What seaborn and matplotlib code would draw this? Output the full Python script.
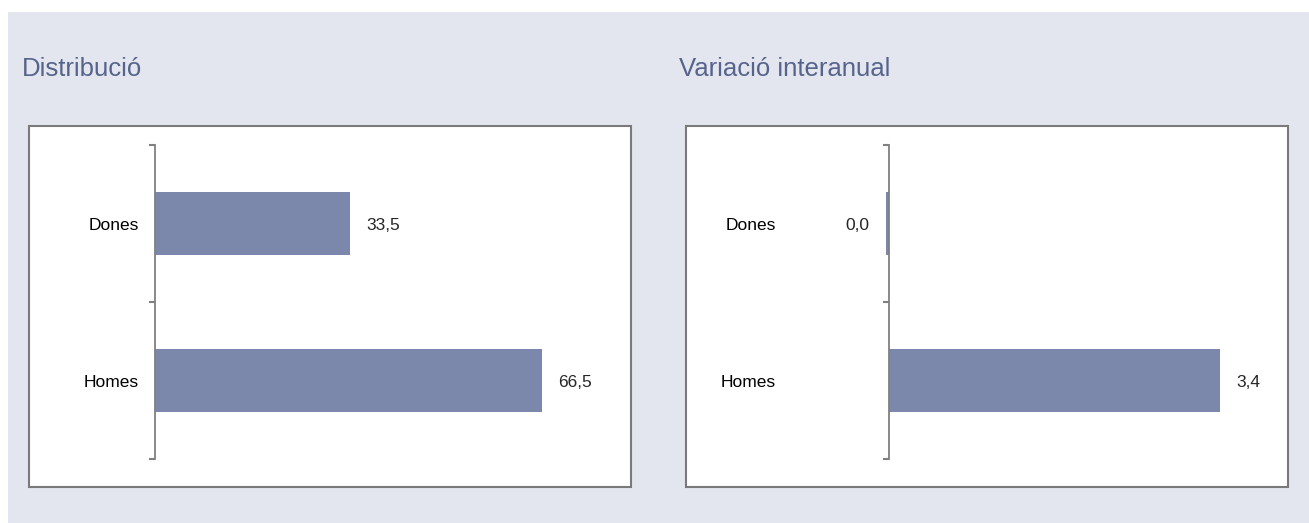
import pandas as pd
import matplotlib.pyplot as plt
import seaborn as sns
from matplotlib.patches import Rectangle

# Data
categories = ["Dones", "Homes"]
distribucio = [33.5, 66.5]
variacio = [-0.03, 3.4]
titles = ["Distribució", "Variació interanual"]

W, H = 1309, 523
bar_color = "#7b88ab"
bg_color = "#e3e6ee"
axis_gray = "#808080"
title_color = "#56648c"

sns.set_style("white")
plt.rcParams["font.family"] = ["Liberation Sans", "DejaVu Sans"]

fig = plt.figure(figsize=(W / 100, H / 100), dpi=100, facecolor="white")

# grey panel background and white chart frames (behind the axes)
fig.patches.append(Rectangle((8 / W, 0), 1 - 8 / W, 1 - 12 / H, transform=fig.transFigure,
                             facecolor=bg_color, edgecolor="none", zorder=-3))
for x0 in (29, 686):
    fig.patches.append(Rectangle((x0 / W, 1 - 487 / H), 602 / W, 361 / H, transform=fig.transFigure,
                                 facecolor="white", edgecolor="#7a7a7a", linewidth=1.5, zorder=-2))

def fmt(v):
    return f"{round(v, 1) + 0.0:.1f}".replace(".", ",")

panels = [
    (distribucio, (0, 80), 154.5, 466),
    (variacio, (-1, 4), 791.6, 487),
]

for i, (vals, xlim, left_px, width_px) in enumerate(panels):
    ax = fig.add_axes([left_px / W, 1 - 459 / H, width_px / W, 314 / H])
    ax.patch.set_alpha(0)
    df = pd.DataFrame({"cat": categories, "val": vals})
    sns.barplot(data=df, x="val", y="cat", orient="h", color=bar_color, saturation=1,
                width=0.4, linewidth=0, ax=ax)
    ax.set_xlim(*xlim)
    ax.set_ylim(1.5, -0.5)
    labels = ax.bar_label(ax.containers[0], labels=[fmt(v) for v in vals], padding=12, fontsize=12.5)
    for t in labels:
        dx, dy = t.xyann
        t.xyann = (dx, dy - 1.5)

    for s in ("top", "right", "bottom"):
        ax.spines[s].set_visible(False)
    ax.spines["left"].set_position(("data", 0))
    ax.spines["left"].set_color(axis_gray)
    ax.spines["left"].set_linewidth(1.3)
    ax.set_xticks([])
    ax.set_yticks([0.0, 1.0])
    ax.set_yticks([-0.5, 0.5, 1.5], minor=True)
    ax.tick_params(axis="y", which="major", length=0, labelleft=False)
    ax.tick_params(axis="y", which="minor", left=True, length=4, width=1.5,
                   color=axis_gray, direction="out")
    ax.set_xlabel("")
    ax.set_ylabel("")

    for j, c in enumerate(categories):
        ax.text(-15.5 / width_px, j + 0.012, c, transform=ax.get_yaxis_transform(),
                ha="right", va="center", fontsize=12.5, color="black")

    fig.text((22 if i == 0 else 679) / W, 1 - 76 / H, titles[i], fontsize=18.5,
             color=title_color, ha="left", va="baseline")

fig.savefig("out.png", dpi=100, facecolor="white")
